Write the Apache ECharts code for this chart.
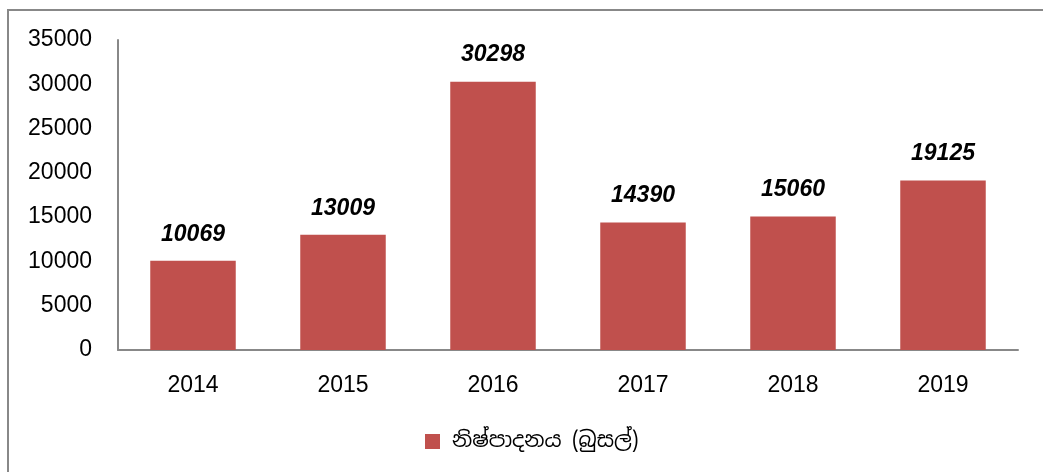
<!DOCTYPE html>
<html>
<head>
<meta charset="utf-8">
<script src="https://cdn.jsdelivr.net/npm/echarts@6/dist/echarts.min.js"></script>
<style>
  html, body { margin: 0; padding: 0; background: #fff; }
  #chart { width: 1043px; height: 472px; }
</style>
</head>
<body>
<div id="chart"></div>
<script>
// data
const years = ['2014', '2015', '2016', '2017', '2018', '2019']
const production = [10069, 13009, 30298, 14390, 15060, 19125]
const seriesName = 'නිෂ්පාදනය (බුසල්)'

const chart = echarts.init(document.getElementById('chart'))

const option = {
  backgroundColor: '#fff',
  animation: false,
  textStyle: { fontFamily: 'Liberation Sans, Noto Sans, sans-serif' },
  graphic: [{
    type: 'rect',
    shape: { x: 8, y: 10, width: 1100, height: 520 },
    style: { fill: 'none', stroke: '#888', lineWidth: 2 },
    silent: true
  }],
  grid: { left: 118, right: 25, top: 40, bottom: 122 },
  legend: {
    bottom: 15,
    left: 420,
    itemWidth: 15,
    itemHeight: 15,
    icon: 'rect',
    itemGap: 10,
    textStyle: { fontSize: 21, color: '#000', padding: [0, 0, 0, 7], fontFamily: 'Noto Sans Sinhala, Noto Sans, sans-serif' },
    data: [seriesName]
  },
  xAxis: {
    type: 'category',
    data: years,
    axisLine: { lineStyle: { color: '#888', width: 2 } },
    axisTick: { show: false },
    axisLabel: { fontSize: 23, color: '#000', margin: 24 }
  },
  yAxis: {
    type: 'value',
    min: 0,
    max: 35000,
    interval: 5000,
    splitLine: { show: false },
    axisLine: { show: true, lineStyle: { color: '#888', width: 2 } },
    axisTick: { show: false },
    axisLabel: { fontSize: 23, color: '#000', margin: 26, formatter: v => String(v) }
  },
  series: [{
    name: seriesName,
    type: 'bar',
    data: production,
    barWidth: '57%',
    itemStyle: { color: '#C0504D' },
    label: {
      show: true,
      position: 'top',
      distance: 15,
      fontSize: 23,
      fontWeight: 'bold',
      fontStyle: 'italic',
      color: '#000'
    }
  }]
}

chart.setOption(option)
window.addEventListener('resize', () => { chart.resize() })
</script>
</body>
</html>
